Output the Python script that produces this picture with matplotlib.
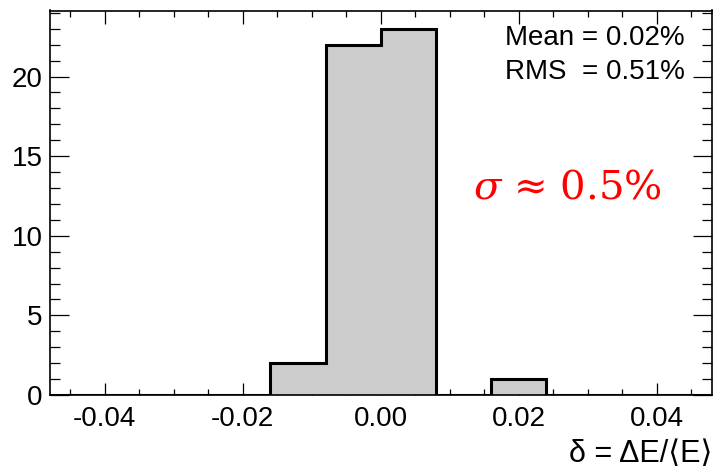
import matplotlib
matplotlib.use("Agg")
import matplotlib.pyplot as plt
from matplotlib.ticker import MultipleLocator, FormatStrFormatter
import numpy as np

# Data
bin_edges = [-0.048, -0.040, -0.032, -0.024, -0.016, -0.008, 0.000,
             0.008, 0.016, 0.024, 0.032, 0.040, 0.048]
counts = [0, 0, 0, 0, 2, 22, 23, 0, 1, 0, 0, 0]
stats_lines = ["Mean = 0.02%", "RMS  = 0.51%"]
sigma_label = r"$\sigma$ ≈ 0.5%"
x_label = "δ = ΔE/⟨E⟩"

plt.rcParams['font.family'] = ['Liberation Sans', 'DejaVu Sans']
plt.rcParams['mathtext.fontset'] = 'dejavuserif'

W, H = 713, 469
fig = plt.figure(figsize=(W / 100, H / 100), dpi=100)
left, right, bottom, top = 49.5, 712, 395, 10.5
ax = fig.add_axes([left / W, 1 - bottom / H, (right - left) / W, (bottom - top) / H])

ax.stairs(counts, bin_edges, fill=True, color='#cccccc', zorder=2)
ax.stairs(counts, bin_edges, fill=False, color='black', linewidth=2.2, zorder=3,
          baseline=0)

ax.set_xlim(bin_edges[0], bin_edges[-1])
ax.set_ylim(0, max(counts) * 1.05)

ax.xaxis.set_major_locator(MultipleLocator(0.02))
ax.xaxis.set_minor_locator(MultipleLocator(0.005))
ax.xaxis.set_major_formatter(FormatStrFormatter('%.2f'))
ax.yaxis.set_major_locator(MultipleLocator(5))
ax.yaxis.set_minor_locator(MultipleLocator(1))

ax.tick_params(axis='x', which='both', direction='in', top=True, bottom=True,
               labelsize=20, pad=8, width=0.9)
ax.tick_params(axis='x', which='major', length=9)
ax.tick_params(axis='x', which='minor', length=4.5)
ax.tick_params(axis='y', which='both', direction='in', left=True, right=True,
               labelsize=20, pad=5, width=0.9)
ax.tick_params(axis='y', which='major', length=14)
ax.tick_params(axis='y', which='minor', length=7)

for s in ax.spines.values():
    s.set_linewidth(1.2)
    s.set_color('black')

# x label at right
fig.text(right / W, 1 - 454 / H, x_label, ha='right', va='center', fontsize=22)

# stats box text
ax.text(505 / W, 1 - 38 / H, stats_lines[0], transform=fig.transFigure,
        ha='left', va='center', fontsize=20)
ax.text(505 / W, 1 - 72 / H, stats_lines[1], transform=fig.transFigure,
        ha='left', va='center', fontsize=20)

# red annotation
fig.text(473 / W, 1 - 188 / H, sigma_label, color='red', ha='left', va='center',
         fontsize=29, family=['DejaVu Serif'])

fig.savefig('out.png', dpi=100)
